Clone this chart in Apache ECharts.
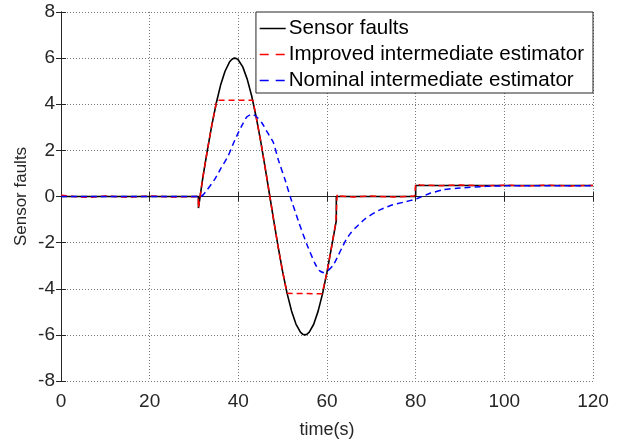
<!DOCTYPE html>
<html>
<head>
<meta charset="utf-8">
<script src="https://cdn.jsdelivr.net/npm/echarts@6/dist/echarts.min.js"></script>
<style>
  html, body { margin: 0; padding: 0; background: #fff; }
  #chart { width: 635px; height: 444px; }
</style>
</head>
<body>
<div id="chart"></div>
<script>
// axis ticks
const xTicks = [0, 20, 40, 60, 80, 100, 120]
const yTicks = [-8, -6, -4, -2, 0, 2, 4, 6, 8]

// actual sensor fault [t, value]
const sensorFaults = [
  [0, 0], [31, 0], [31, -0.5], [32, 0.83], [33, 1.99], [34, 3.07], [35, 4.03], [36, 4.83],
  [37, 5.43], [38, 5.83], [38.5, 5.94], [39, 6.0], [39.5, 5.99], [40, 5.92], [41, 5.62],
  [42, 5.09], [43, 4.37], [44, 3.47], [45, 2.44], [46, 1.31], [47, 0.13], [48, -1.06],
  [49, -2.21], [50, -3.27], [51, -4.2], [52, -4.96], [53, -5.53], [54, -5.88], [54.5, -5.97],
  [55, -6.0], [55.5, -5.97], [56, -5.88], [57, -5.54], [58, -4.97], [59, -4.21], [60, -3.28],
  [61, -2.22], [62.1, -1.05], [62.1, 0], [80, 0], [80, 0.48], [120, 0.48]
]

// improved intermediate estimator [t, value]
const improvedEst = [
  [0, 0.05], [3, 0], [6, -0.04], [10, 0.02], [15, -0.03], [20, 0.02], [25, -0.02], [31, 0],
  [31, -0.5], [32, 0.83], [33, 1.99], [34, 3.07], [35, 4.03], [35.2, 4.17], [43.3, 4.17],
  [44, 3.47], [45, 2.44], [46, 1.31], [47, 0.13], [48, -1.06], [49, -2.21], [50, -3.27],
  [51, -4.2], [51.1, -4.22], [58.9, -4.22], [59, -4.21], [60, -3.28], [61, -2.22],
  [62, -1.1], [62.3, 0.1], [63, 0.02], [66, -0.02], [70, 0.02], [75, -0.02], [79.8, 0.02],
  [80, 0.55], [81, 0.5], [85, 0.47], [90, 0.5], [95, 0.46], [100, 0.49], [105, 0.46],
  [110, 0.49], [115, 0.46], [120, 0.48]
]

// nominal intermediate estimator [t, value]
const nominalEst = [
  [0, 0], [31.5, 0], [33, 0.3], [34.7, 0.75], [36, 1.2], [37.7, 1.76], [39, 2.35], [40, 2.77],
  [41, 3.15], [41.9, 3.45], [43, 3.56], [44, 3.48], [45.3, 3.2], [46.5, 2.8], [47.9, 2.34],
  [49, 1.6], [50.5, 0.75], [51.7, 0], [53.5, -1.04], [55.4, -2.05], [57.3, -2.91],
  [58.2, -3.2], [59.2, -3.3], [60.3, -3.2], [61.4, -2.98], [62.3, -2.65], [63.3, -2.25],
  [64.3, -1.88], [65.3, -1.6], [66.3, -1.38], [68.6, -0.97], [71.6, -0.61], [74.2, -0.4],
  [77.2, -0.25], [80.2, -0.1], [83, 0.12], [86.2, 0.29], [90, 0.37], [96, 0.44],
  [102, 0.47], [120, 0.47]
]

const seriesNames = ['Sensor faults', 'Improved intermediate estimator', 'Nominal intermediate estimator']
const dash = [6, 4]
const legendDash = [9, 7]

const chart = echarts.init(document.getElementById('chart'))
const font = 'Liberation Sans, Arial, sans-serif'
const gridLine = { show: true, lineStyle: { color: '#7a7a7a', type: [1, 2], width: 1 } }

const baseX = {
  type: 'value', min: xTicks[0], max: xTicks[xTicks.length - 1], interval: 20,
  axisLine: { show: true, lineStyle: { color: '#262626', width: 1 } },
  axisTick: { show: true, inside: true, length: 5, lineStyle: { color: '#262626' } }
}
const baseY = {
  type: 'value', min: yTicks[0], max: yTicks[yTicks.length - 1], interval: 2,
  axisLine: { show: true, lineStyle: { color: '#262626', width: 1 } },
  axisTick: { show: true, inside: true, length: 5, lineStyle: { color: '#262626' } }
}

chart.setOption({
  animation: false,
  backgroundColor: '#fff',
  textStyle: { fontFamily: font },
  grid: { left: 61, right: 42, top: 12, bottom: 61, containLabel: false },
  legend: {
    orient: 'vertical',
    right: 42, top: 12,
    padding: [6, 9, 2, 3],
    itemGap: 5,
    itemWidth: 26,
    itemHeight: 14,
    backgroundColor: '#fff',
    borderColor: '#262626',
    borderWidth: 1,
    borderRadius: 0,
    itemStyle: { opacity: 0 },
    textStyle: { fontFamily: font, fontSize: 20.6, color: '#000', padding: [0, 0, 0, -2] },
    data: [
      { name: seriesNames[0], lineStyle: { color: '#000', width: 1.5, type: 'solid' } },
      { name: seriesNames[1], lineStyle: { color: '#ff0000', width: 1.5, type: legendDash } },
      { name: seriesNames[2], lineStyle: { color: '#0000ff', width: 1.5, type: legendDash } }
    ]
  },
  xAxis: [
    Object.assign({}, baseX, {
      position: 'bottom',
      name: 'time(s)', nameLocation: 'middle', nameGap: 40,
      nameTextStyle: { fontFamily: font, fontSize: 18, color: '#262626' },
      axisLabel: { fontFamily: font, fontSize: 19, color: '#262626', margin: 11 },
      splitLine: gridLine
    }),
    Object.assign({}, baseX, { position: 'top', axisLabel: { show: false }, splitLine: { show: false } })
  ],
  yAxis: [
    Object.assign({}, baseY, {
      position: 'left',
      name: 'Sensor faults', nameLocation: 'middle', nameGap: 31, nameMoveOverlap: false,
      nameTextStyle: { fontFamily: font, fontSize: 17, color: '#262626' },
      axisLabel: { fontFamily: font, fontSize: 19, color: '#262626', margin: 6 },
      splitLine: gridLine
    }),
    Object.assign({}, baseY, { position: 'right', axisLabel: { show: false }, splitLine: { show: false } })
  ],
  series: [
    {
      name: seriesNames[0], type: 'line', data: sensorFaults,
      showSymbol: false, symbol: 'none', z: 3,
      lineStyle: { color: '#000', width: 1.6 }, itemStyle: { color: '#000' }
    },
    {
      name: seriesNames[1], type: 'line', data: improvedEst,
      showSymbol: false, symbol: 'none', z: 4,
      lineStyle: { color: '#ff0000', width: 1.5, type: dash }, itemStyle: { color: '#ff0000' }
    },
    {
      name: seriesNames[2], type: 'line', data: nominalEst, smooth: 0.2,
      showSymbol: false, symbol: 'none', z: 5,
      lineStyle: { color: '#0000ff', width: 1.5, type: dash }, itemStyle: { color: '#0000ff' }
    }
  ]
})
</script>
</body>
</html>
